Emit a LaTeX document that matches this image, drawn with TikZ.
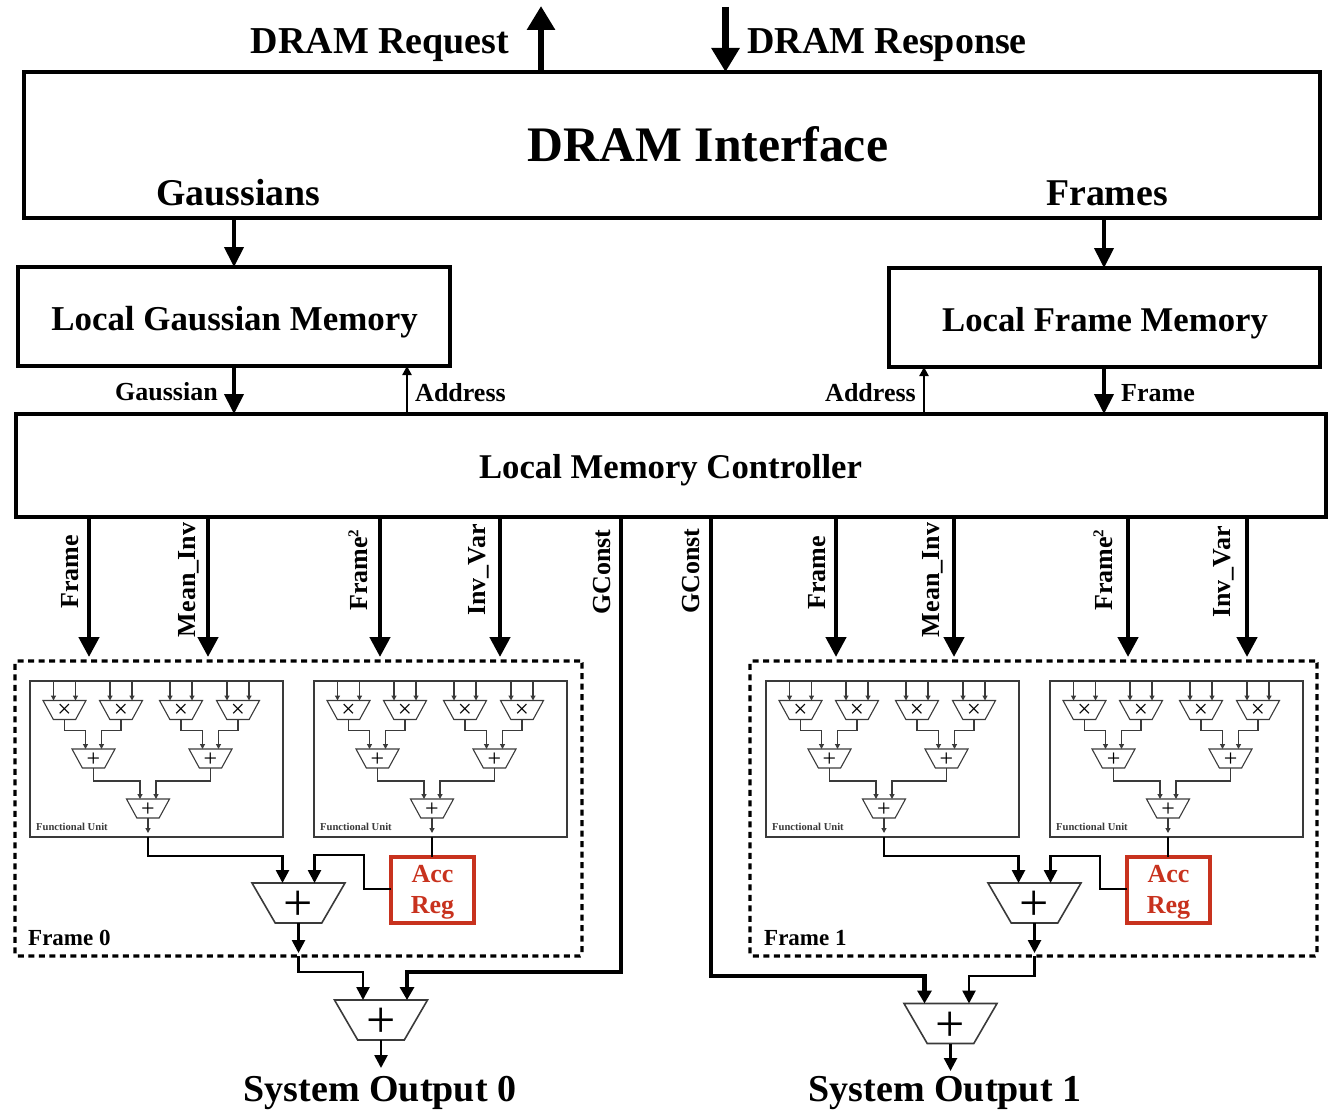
\documentclass[tikz,border=0pt]{standalone}
\usepackage{fontspec}
\setmainfont{Liberation Serif}
\usetikzlibrary{arrows.meta,shapes.geometric,calc}
\definecolor{regred}{HTML}{C8321E}
\definecolor{fugray}{HTML}{3A3A3A}
\newcommand{\fs}[1]{\fontsize{#1}{#1}\selectfont}
\tikzset{
  box/.style={draw=black,line width=4pt,anchor=north west,inner sep=0pt,outer sep=0pt},
  boxtext/.style={inner sep=0pt,font=\bfseries\fs{34.7}},
  lbl/.style={inner sep=0pt,font=\bfseries\fs{26}},
  rlbl/.style={lbl,rotate=90},
  big/.style={inner sep=0pt,font=\bfseries\fs{38}},
  toparrow/.style={line width=6.5pt,-{Triangle[length=24pt,width=27pt]}},
  bigarrow/.style={line width=4.5pt,-{Triangle[length=20pt,width=20pt]}},
  midarrow/.style={line width=4pt,-{Triangle[length=20pt,width=19pt]}},
  thinarrow/.style={line width=2.2pt,-{Triangle[length=9pt,width=9pt]}},
  wire/.style={line width=2.6pt,-{Triangle[length=13pt,width=13pt]}},
  gwire/.style={line width=4.8pt,-{Triangle[length=13pt,width=14pt]}},
  plainwire/.style={line width=2.6pt},
  framebox/.style={draw=black,line width=3.4pt,dash pattern=on 6pt off 4.5pt,rounded corners=2pt,anchor=north west,minimum width=567pt,minimum height=295pt,inner sep=0pt,outer sep=0pt},
  fubox/.style={draw=fugray,line width=2.2pt,anchor=north west,minimum width=253pt,minimum height=156pt,inner sep=0pt,outer sep=0pt},
  fuwire/.style={draw=fugray,line width=1.2pt},
  fuarrow/.style={fuwire,-{Triangle[length=5pt,width=5pt]}},
  smallalu/.style={draw=fugray,line width=1.1pt,trapezium,trapezium stretches=true,shape border rotate=180,trapezium left angle=65,trapezium right angle=65,minimum width=43pt,minimum height=19pt,inner sep=0pt,outer sep=0pt},
  bigalu/.style={draw=fugray,line width=1.6pt,trapezium,trapezium stretches=true,shape border rotate=180,trapezium left angle=63.5,trapezium right angle=63.5,minimum width=93pt,minimum height=40pt,inner sep=0pt,outer sep=0pt},
  bigsym/.style={inner sep=0pt,font=\fs{52},yshift=-3pt},
  addsym/.style={inner sep=0pt,font=\fs{24},yshift=-1.5pt},
  mulsym/.style={inner sep=0pt,font=\fs{25},yshift=-1pt},
  regbox/.style={draw=regred,line width=3.4pt,anchor=north west,minimum width=83pt,minimum height=66pt,inner sep=0pt,outer sep=0pt},
  regtext/.style={inner sep=0pt,align=center,text=regred,font=\bfseries\fs{26},yshift=-2pt},
}
% name, cx, cy, shape style, symbol style, symbol, half input spacing, half height
\newcommand{\alu}[8]{%
  \node[#4] (#1) at (#2,#3) {\phantom{\rule{2pt}{2pt}}};
  \node[#5] (#1-s) at (#1.center) {#6};
  \coordinate (#1-a) at ($(#1.center)+(-#7,-#8)$);
  \coordinate (#1-b) at ($(#1.center)+(#7,-#8)$);
  \coordinate (#1-o) at ($(#1.center)+(0,#8)$);
}
\newcommand{\smul}[3]{\alu{#1}{#2}{#3}{smallalu}{mulsym}{×}{11}{9.5}}
\newcommand{\sadd}[3]{\alu{#1}{#2}{#3}{smallalu}{addsym}{+}{8}{9.5}}
% functional unit: name, ox, oy
\newcommand{\fu}[3]{%
  \begin{scope}[shift={(#2,#3)},name prefix=#1-]
    \node[fubox] (box) at (0,0) {};
    \node[inner sep=0pt,anchor=west,font=\bfseries\fs{10.6},text=fugray] (cap) at (6,146) {Functional Unit};
    \smul{m1}{34.5}{29}\smul{m2}{91}{29}\smul{m3}{151}{29}\smul{m4}{208}{29}
    \sadd{a1}{63.5}{77.5}\sadd{a2}{180.5}{77.5}\sadd{a3}{118}{127.5}
    \foreach \m in {m1,m2,m3,m4}{
      \draw[fuarrow] (box.north -| \m-a) -- (\m-a);
      \draw[fuarrow] (box.north -| \m-b) -- (\m-b);
    }
    \coordinate (h1) at (0,49.5);
    \coordinate (h2) at (0,100);
    \draw[fuarrow] (m1-o) |- (h1 -| a1-a) -- (a1-a);
    \draw[fuarrow] (m2-o) |- (h1 -| a1-b) -- (a1-b);
    \draw[fuarrow] (m3-o) |- (h1 -| a2-a) -- (a2-a);
    \draw[fuarrow] (m4-o) |- (h1 -| a2-b) -- (a2-b);
    \draw[fuarrow] (a1-o) |- (h2 -| a3-a) -- (a3-a);
    \draw[fuarrow] (a2-o) |- (h2 -| a3-b) -- (a3-b);
    \coordinate (tip) at (118,152);
    \draw[fuarrow] (a3-o) -- (tip);
    \coordinate (out) at (118,156);
  \end{scope}
}
\begin{document}
\begin{tikzpicture}[x=1pt,y=-1pt]
\useasboundingbox (0,0) rectangle (1329,1110);
% top boxes
\node[box,minimum width=1296pt,minimum height=146pt] (dram) at (24,72) {};
\node[inner sep=0pt,font=\bfseries\fs{49.7}] (dramt) at (708,144) {DRAM Interface};
\node[big,font=\bfseries\fs{37.8}] (gs) at (238.5,193) {Gaussians};
\node[big,font=\bfseries\fs{37.8}] (fs) at (1107,193) {Frames};
\node[big] (req) at (380,45) {DRAM Request};
\node[big] (resp) at (887,45) {DRAM Response};
\coordinate (rq) at (541,6);
\coordinate (rs) at (725.5,72);
\coordinate (rs0) at (725.5,7);
\draw[toparrow] (dram.north -| rq) -- (rq);
\draw[toparrow] (rs0) -- (rs);
\node[box,minimum width=432pt,minimum height=99pt] (lg) at (18,267) {};
\node[box,minimum width=431pt,minimum height=99pt] (lf) at (889,268) {};
\node[box,minimum width=1310pt,minimum height=103pt] (ctl) at (16,414) {};
\node[boxtext,font=\bfseries\fs{34.9}] (lgt) at (234.5,322) {Local Gaussian Memory};
\node[boxtext] (lft) at (1105,323) {Local Frame Memory};
\node[boxtext] (ctlt) at (670.5,470) {Local Memory Controller};
\coordinate (x1) at (234,0);
\coordinate (x2) at (1104,0);
\coordinate (x3) at (407,0);
\coordinate (x4) at (924,0);
\draw[midarrow] (dram.south -| x1) -- (lg.north -| x1);
\draw[midarrow] (dram.south -| x2) -- (lf.north -| x2);
\draw[midarrow] (lg.south -| x1) -- (ctl.north -| x1);
\draw[midarrow] (lf.south -| x2) -- (ctl.north -| x2);
\draw[thinarrow] (ctl.north -| x3) -- (lg.south -| x3);
\draw[thinarrow] (ctl.north -| x4) -- (lf.south -| x4);
\node[lbl] (l1) at (166.5,392) {Gaussian};
\node[lbl] (l2) at (460.5,393) {Address};
\node[lbl] (l3) at (870.5,393) {Address};
\node[lbl] (l4) at (1158,393) {Frame};
% frames
\node[framebox] (f0) at (15,661) {};
\node[framebox] (f1) at (750,661) {};
\node[inner sep=0pt,anchor=west,font=\bfseries\fs{23}] (f0t) at (28,938) {Frame 0};
\node[inner sep=0pt,anchor=west,font=\bfseries\fs{23}] (f1t) at (764,938) {Frame 1};
% down arrows and labels
\foreach \n/\x in {a/89,b/208,c/380,d/500,e/836,f/954,g/1128,h/1247}{
  \coordinate (d\n) at (\x,657);
  \draw[bigarrow] (ctl.south -| d\n) -- (d\n);
}
\node[rlbl] (t1) at (70,572) {Frame};
\node[rlbl] (t2) at (189,580) {Mean\_Inv};
\node[rlbl] (t3) at (358,570) {Frame\textsuperscript{\fs{15}2}};
\node[rlbl] (t4) at (479,570) {Inv\_Var};
\node[rlbl] (t5) at (602,572) {GConst};
\node[rlbl] (t6) at (691,571) {GConst};
\node[rlbl] (t7) at (817,573) {Frame};
\node[rlbl] (t8) at (933,580) {Mean\_Inv};
\node[rlbl] (t9) at (1103,570) {Frame\textsuperscript{\fs{15}2}};
\node[rlbl] (t10) at (1224,572) {Inv\_Var};
% functional units
\fu{u1}{30}{681}
\fu{u2}{314}{681}
\fu{u3}{766}{681}
\fu{u4}{1050}{681}
% frame 0 datapath
\alu{s0}{298.5}{903}{bigalu}{bigsym}{+}{16}{20}
\node[regbox] (r0) at (391,857) {};
\node[regtext] (r0t) at (r0.center) {Acc\\[5pt]Reg};
\coordinate (h0) at (0,856);
\coordinate (v0) at (364,0);
\coordinate (k0) at (0,855);
\draw[wire] (u1-out) |- (h0 -| s0-a) -- (s0-a);
\draw[plainwire] (u2-out) -- (r0.north -| u2-out);
\draw[wire] (r0.west |- 0,889) -| (v0 |- k0) -| (s0-b);
\alu{b0}{381}{1020}{bigalu}{bigsym}{+}{0}{20}
\coordinate (b0l) at ($(b0-o)+(-18,-40)$);
\coordinate (b0r) at ($(b0-o)+(26,-40)$);
\coordinate (s0t) at (298.5,953);
\coordinate (s0u) at (298.5,956);
\coordinate (g0) at (621,517);
\coordinate (h3) at (0,972);
\draw[wire] (s0-o) -- (s0t);
\draw[wire] (s0u) |- (h3 -| b0l) -- (b0l);
\draw[gwire] (ctl.south -| g0) -- (g0 |- h3) -| (b0r);
\coordinate (o0) at (381,1068);
\draw[wire] (b0-o) -- (o0);
\node[big] (so0) at (380,1093) {System Output 0};
% frame 1 datapath
\alu{s1}{1034.5}{903}{bigalu}{bigsym}{+}{16}{20}
\node[regbox] (r1) at (1127,857) {};
\node[regtext] (r1t) at (r1.center) {Acc\\[5pt]Reg};
\coordinate (v1) at (1100,0);
\coordinate (k1) at (0,856);
\draw[wire] (u3-out) |- (h0 -| s1-a) -- (s1-a);
\draw[plainwire] (u4-out) -- (r1.north -| u4-out);
\draw[wire] (r1.west |- 0,889) -| (v1 |- k1) -| (s1-b);
\alu{b1}{950.5}{1023.5}{bigalu}{bigsym}{+}{0}{20}
\coordinate (b1l) at ($(b1-o)+(-26,-40)$);
\coordinate (b1r) at ($(b1-o)+(18.5,-40)$);
\coordinate (s1t) at (1034.5,953);
\coordinate (s1u) at (1034.5,956);
\coordinate (g1) at (711,517);
\coordinate (h4) at (0,976);
\draw[wire] (s1-o) -- (s1t);
\draw[wire] (s1u) |- (h4 -| b1r) -- (b1r);
\draw[gwire] (ctl.south -| g1) -- (g1 |- h4) -| (b1l);
\coordinate (o1) at (950.5,1071);
\draw[wire] (b1-o) -- (o1);
\node[big] (so1) at (945,1093) {System Output 1};
\end{tikzpicture}
\end{document}
